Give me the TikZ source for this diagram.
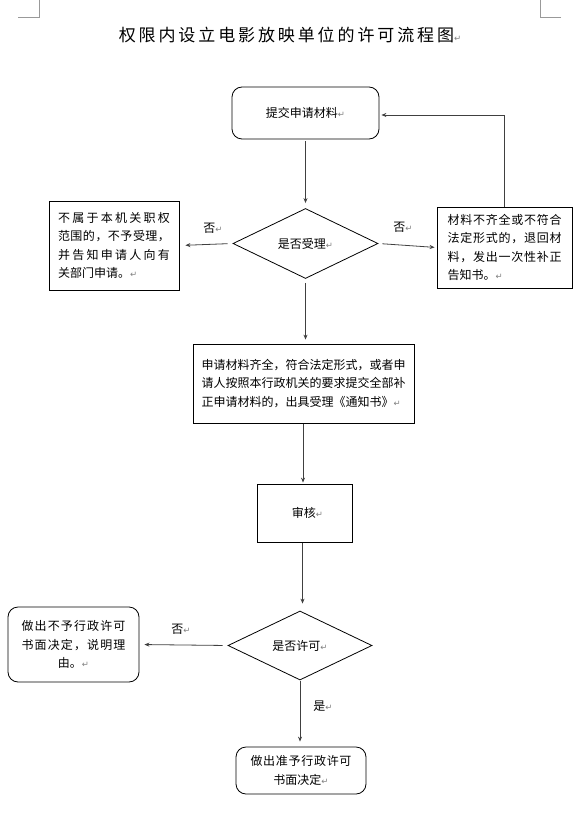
\documentclass[tikz,border=0pt]{standalone}
\usepackage{fontspec}
\setmainfont{Noto Sans CJK SC}
\newfontfamily\symf{DejaVu Sans}
\newfontfamily\titlefont[LetterSpace=17]{Noto Sans CJK SC}
\usetikzlibrary{arrows.meta,shapes.geometric}
\newcommand\parmark{{\symf\fontsize{8.5}{8.5}\selectfont\color{gray}↵}}
\def\spreadA#1{\ifx\relax#1\else\hfil#1\expandafter\spreadA\fi}
\def\spreadfirst#1{#1\spreadA}
\newcommand\jline[2]{\hbox to #1{\spreadfirst#2\relax}}
\tikzset{
  box/.style={draw=black, line width=0.8pt, inner sep=0pt, font=\fontsize{12}{18.5}\selectfont},
  rbox/.style={box, rounded corners=10pt},
  dia/.style={diamond, draw=black, line width=0.8pt, inner sep=0pt, font=\fontsize{12}{18.5}\selectfont},
  conn/.style={draw=black!75, line width=0.8pt, -{Stealth[length=5pt,width=4pt]}},
  lbl/.style={font=\fontsize{12}{14}\selectfont, inner sep=0pt},
  crop/.style={draw=black!40, line width=0.8pt}
}
\begin{document}
\begin{tikzpicture}[x=1pt,y=-1pt]
\useasboundingbox (0,0) rectangle (579,818);
% crop marks
\draw[crop] (18,17) -- (39,17) -- (39,0);
\draw[crop] (561,17) -- (540,17) -- (540,0);
% title
\node[inner sep=0pt, font=\titlefont\fontsize{17}{20}\selectfont] (title) at (290,35) {权限内设立电影放映单位的许可流程图\parmark};
% nodes
\node[rbox, minimum width=147pt, minimum height=52pt] (b1) at (305.5,113) {提交申请材料\parmark};
\node[dia, minimum width=145pt, minimum height=70pt] (d1) at (305.5,243.5) {是否受理\parmark};
\node[box, minimum width=130pt, minimum height=89pt, align=left] (nl) at (114,245.5)
  {\jline{112pt}{不属于本机关职权}\\\jline{112pt}{范围的，不予受理，}\\\jline{112pt}{并告知申请人向有}\\关部门申请。\parmark};
\node[box, minimum width=135pt, minimum height=81pt, align=left] (nr) at (504.5,247.5)
  {\jline{114pt}{材料不齐全或不符合}\\\jline{114pt}{法定形式的，退回材}\\\jline{114pt}{料，发出一次性补正}\\告知书。\parmark};
\node[box, minimum width=221pt, minimum height=79pt, align=left] (b3) at (303.5,383.5)
  {申请材料齐全，符合法定形式，或者申\\请人按照本行政机关的要求提交全部补\\正申请材料的，出具受理《通知书》\parmark};
\node[box, minimum width=95pt, minimum height=58pt] (b4) at (304.5,513) {\hspace*{6pt}审核\parmark};
\node[dia, minimum width=144pt, minimum height=69pt] (d2) at (300,645.5) {是否许可\parmark};
\node[rbox, minimum width=131pt, minimum height=75pt, align=center] (nl2) at (73.5,644.5)
  {\jline{104pt}{做出不予行政许可}\\\jline{104pt}{书面决定，说明理}\\由。\parmark};
\node[rbox, minimum width=130pt, minimum height=47pt, align=center] (b5) at (301,770.5)
  {\jline{101pt}{做出准予行政许可}\\书面决定\parmark};
% labels
\node[lbl] (n1) at (213,228) {否\parmark};
\node[lbl] (n2) at (403,227) {否\parmark};
\node[lbl] (n3) at (181,629) {否\parmark};
\node[lbl] (y1) at (323,706) {是\parmark};
% connectors
\draw[conn, shorten <=2pt, shorten >=5pt] (b1.south) -- (d1.north);
\draw[conn, shorten <=5pt, shorten >=6pt] (d1.west) -- (nl.east);
\draw[conn, shorten <=4pt, shorten >=2pt] (d1.east) -- (nr.west);
\draw[conn, shorten >=2pt] (nr.north) |- ([yshift=-2pt]b1.east);
\draw[conn, shorten <=4pt, shorten >=4pt] (d1.south) -- (d1.south |- b3.north);
\draw[conn, shorten <=1pt, shorten >=1pt] ([xshift=-0.5pt]b3.south) -- ([xshift=-0.5pt]b3.south |- b4.north);
\draw[conn, shorten <=1pt, shorten >=7pt] ([xshift=-2pt]b4.south) -- ([xshift=-2pt]b4.south |- d2.north);
\draw[conn, shorten <=5pt, shorten >=5pt] (d2.west) -- (nl2.east);
\draw[conn, shorten <=1pt, shorten >=5pt] (d2.south) -- (d2.south |- b5.north);
\end{tikzpicture}
\end{document}
